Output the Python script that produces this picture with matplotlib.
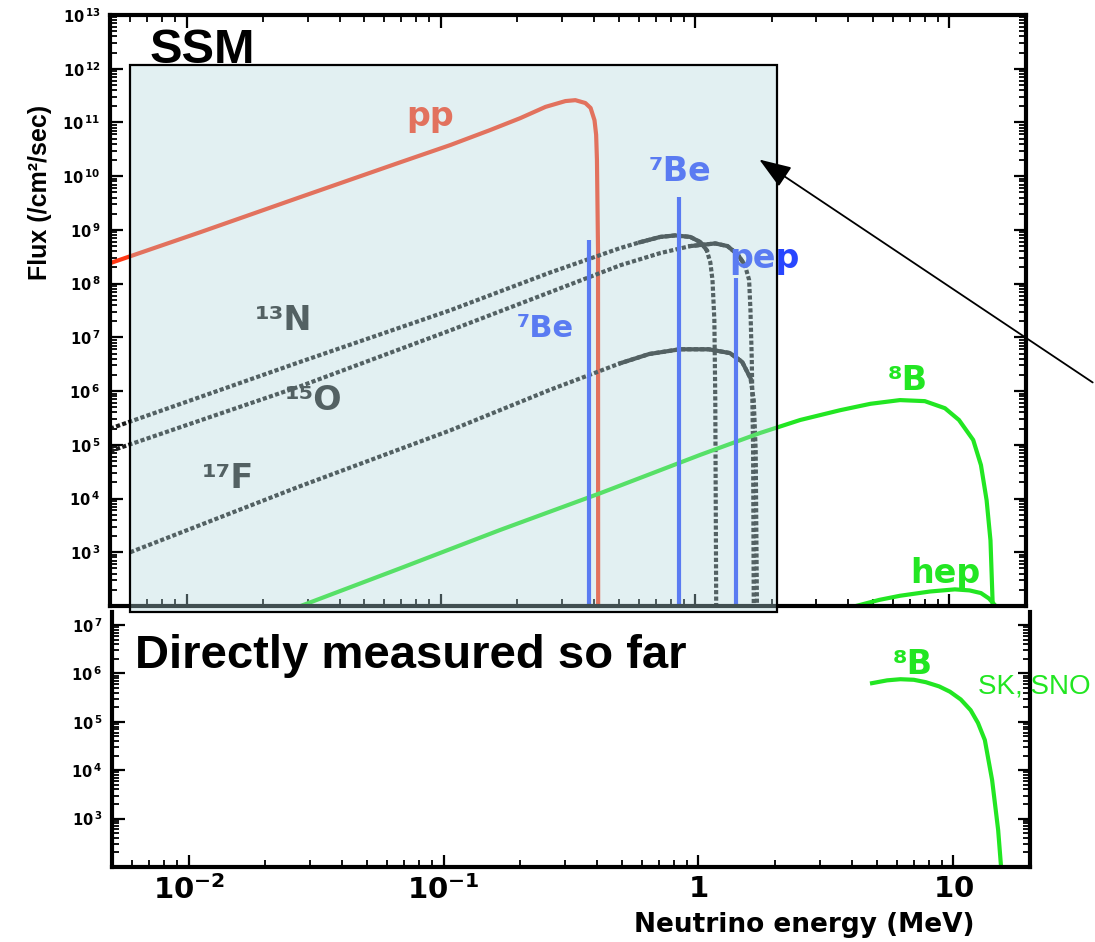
import numpy as np
import matplotlib
matplotlib.use("Agg")
import matplotlib.pyplot as plt
from matplotlib.patches import Rectangle, FancyArrowPatch
from matplotlib.ticker import LogLocator, FuncFormatter, NullFormatter

plt.rcParams["mathtext.fontset"] = "dejavusans"

# ---------------- data (energy in MeV, flux in /cm^2/sec) ----------------
pp_E = [0.005, 0.01135, 0.0281, 0.0694, 0.109, 0.156, 0.205, 0.258, 0.309,
        0.338, 0.370, 0.388, 0.402, 0.408, 0.411, 0.415, 0.4155]
pp_F = [2.4e8, 9.1e8, 4.1e9, 1.82e10, 3.8e10, 7.2e10, 1.2e11, 1.95e11, 2.5e11,
        2.6e11, 2.3e11, 1.86e11, 1.1e11, 5.9e10, 2.0e10, 4.2e8, 1e2]

n13_E = [0.005, 0.028, 0.109, 0.268, 0.508, 0.607, 0.729, 0.835, 0.957, 1.05,
         1.11, 1.147, 1.17, 1.19, 1.20, 1.21]
n13_F = [2.0e5, 3.5e6, 3.2e7, 1.6e8, 4.6e8, 5.9e8, 7.4e8, 7.9e8, 7.4e8, 5.9e8,
         4.2e8, 2.5e8, 1.17e8, 2.1e7, 6.8e5, 1e2]

o15_E = [0.005, 0.028, 0.109, 0.268, 0.508, 0.729, 0.957, 1.20, 1.34, 1.47,
         1.57, 1.63, 1.65, 1.67, 1.69, 1.70]
o15_F = [7.6e4, 1.23e6, 1.35e7, 6.9e7, 2.2e8, 3.7e8, 5.0e8, 5.6e8, 5.0e8, 3.5e8,
         2.2e8, 1.17e8, 3.2e7, 3.8e6, 7.9e4, 1e2]

f17_E = [0.006, 0.028, 0.109, 0.268, 0.508, 0.66, 0.87, 1.13, 1.37, 1.53,
         1.65, 1.70, 1.73, 1.75]
f17_F = [1.0e3, 1.7e4, 1.86e5, 1.05e6, 3.3e6, 4.9e6, 6.0e6, 6.0e6, 5.1e6, 3.5e6,
         1.74e6, 6.8e5, 7.9e4, 1e2]

b8_E = [0.0281, 0.069, 0.171, 0.424, 1.047, 1.80, 2.59, 3.71, 4.89, 6.39, 8.0,
        9.6, 10.9, 12.4, 13.3, 14.0, 14.5, 14.8]
b8_F = [1e2, 5.0e2, 2.6e3, 1.26e4, 6.5e4, 1.66e5, 2.9e5, 4.4e5, 5.8e5, 6.8e5,
        6.5e5, 4.8e5, 2.9e5, 1.23e5, 4.2e4, 9.3e3, 1.66e3, 1e2]

hep_E = [4.29, 5.3, 6.39, 8.38, 10.5, 12.0, 13.3, 14.3, 15.2]
hep_F = [1e2, 1.3e2, 1.55e2, 1.86e2, 2.04e2, 1.95e2, 1.74e2, 1.38e2, 1e2]

be7_E = [0.384, 0.862]
be7_F = [6.5e8, 4.1e9]
pep_E = [1.442]
pep_F = [1.3e8]

# measured 8B spectrum (SK, SNO)
b8m_E = [4.8, 5.5, 6.2, 7.0, 7.8, 8.8, 9.7, 10.7, 11.7, 12.5, 13.3, 14.2, 15.0, 15.4]
b8m_F = [6.3e5, 7.2e5, 7.6e5, 7.4e5, 6.6e5, 5.4e5, 4.2e5, 2.9e5, 1.74e5, 9.5e4,
         4.2e4, 6.3e3, 5.8e2, 1e2]

x_ticks = [0.01, 0.1, 1, 10]
x_tick_labels = [r"$\mathbf{10^{-2}}$", r"$\mathbf{10^{-1}}$", r"$\mathbf{1}$", r"$\mathbf{10}$"]

# ---------------- style ----------------
RED = "#ff3714"
BLUE = "#2846ff"
GREEN = "#22e622"
GRAY = "#1c1c1c"
BOLD = dict(family="DejaVu Sans", weight="bold")

W, H = 1095, 942
fig = plt.figure(figsize=(W / 100, H / 100), dpi=100)
ax = fig.add_axes([110 / W, 1 - 606 / H, 916 / W, 591 / H])
axb = fig.add_axes([112 / W, 1 - 867 / H, 918 / W, 255 / H])


def ylabel_fmt(lo):
    def f(v, pos):
        e = int(round(np.log10(v)))
        if e < lo:
            return ""
        return r"$\mathbf{10}^{\,\mathbf{%d}}$" % e
    return f


for a, ylim in ((ax, (1e2, 1e13)), (axb, (1e2, 10 ** 7.27))):
    a.set_xscale("log")
    a.set_yscale("log")
    a.set_xlim(0.005, 20)
    a.set_ylim(*ylim)
    a.yaxis.set_major_locator(LogLocator(base=10, numticks=30))
    a.yaxis.set_minor_locator(LogLocator(base=10, subs=np.arange(2, 10), numticks=30))
    a.yaxis.set_major_formatter(FuncFormatter(ylabel_fmt(3)))
    a.yaxis.set_minor_formatter(NullFormatter())
    a.xaxis.set_major_locator(LogLocator(base=10, numticks=30))
    a.xaxis.set_minor_locator(LogLocator(base=10, subs=np.arange(2, 10), numticks=30))
    a.xaxis.set_minor_formatter(NullFormatter())
    a.tick_params(which="major", direction="in", length=9, width=1.6, pad=7)
    a.tick_params(which="minor", direction="in", length=5, width=1.3)
    for s in a.spines.values():
        s.set_linewidth(3)

ax.tick_params(which="both", top=True, right=True, labelbottom=False)
axb.tick_params(which="both", top=False, right=True)
axb.spines["top"].set_visible(False)
axb.set_xticks(x_ticks)
axb.set_xticklabels(x_tick_labels, fontsize=21)
axb.tick_params(axis="x", which="major", pad=6)
for a in (ax, axb):
    a.tick_params(axis="y", labelsize=10.5)

# ---------------- curves (top panel) ----------------
ax.plot(pp_E, pp_F, color=RED, lw=3, solid_joinstyle="round")
dots = (0, (1.0, 0.55))
ax.plot(n13_E, n13_F, color=GRAY, lw=3, ls=dots)
ax.plot(o15_E, o15_F, color=GRAY, lw=3, ls=dots)
ax.plot(f17_E, f17_F, color=GRAY, lw=3, ls=dots)
# solid tops of the CNO spectra
for E, F, lo, hi in ((n13_E, n13_F, 0.6, 1.11), (o15_E, o15_F, 0.95, 1.57),
                     (f17_E, f17_F, 0.5, 1.65)):
    sel = [(e, f) for e, f in zip(E, F) if lo <= e <= hi]
    ax.plot([s[0] for s in sel], [s[1] for s in sel], color=GRAY, lw=3,
            solid_joinstyle="round")
ax.plot(b8_E, b8_F, color=GREEN, lw=3, solid_joinstyle="round")
ax.plot(hep_E, hep_F, color=GREEN, lw=3, solid_joinstyle="round")
ax.vlines(be7_E, 1e2, be7_F, color=BLUE, lw=3)
ax.vlines(pep_E, 1e2, pep_F, color=BLUE, lw=3)

ax.text(0.091, 10 ** 11.12, "pp", color=RED, fontsize=24, ha="center", va="center", **BOLD)
ax.text(0.87, 10 ** 10.08, "⁷Be", color=BLUE, fontsize=24, ha="center", va="center", **BOLD)
ax.text(1.88, 10 ** 8.47, "pep", color=BLUE, fontsize=24, ha="center", va="center", **BOLD)
ax.text(0.258, 10 ** 7.17, "⁷Be", color=BLUE, fontsize=22, ha="center", va="center", **BOLD)
ax.text(0.024, 10 ** 7.32, "¹³N", color=GRAY, fontsize=24, ha="center", va="center", **BOLD)
ax.text(0.0316, 10 ** 5.83, "¹⁵O", color=GRAY, fontsize=24, ha="center", va="center", **BOLD)
ax.text(0.0146, 10 ** 4.38, "¹⁷F", color=GRAY, fontsize=24, ha="center", va="center", **BOLD)
ax.text(6.87, 10 ** 6.2, "⁸B", color=GREEN, fontsize=24, ha="center", va="center", **BOLD)
ax.text(9.6, 10 ** 2.61, "hep", color=GREEN, fontsize=24, ha="center", va="center", **BOLD)
ax.text(0.0437, 0.919, "SSM", transform=ax.transAxes, fontsize=35,
        family="Liberation Sans", weight="bold", ha="left", va="baseline")

# ---------------- bottom panel ----------------
axb.plot(b8m_E, b8m_F, color=GREEN, lw=3, solid_joinstyle="round")
axb.text(6.95, 10 ** 6.19, "⁸B", color=GREEN, fontsize=24, ha="center", va="center", **BOLD)
axb.text(12.5, 10 ** 5.74, "SK, SNO", color=GREEN, fontsize=20,
         family="Liberation Sans", ha="left", va="center", clip_on=False)
axb.text(0.025, 0.78, "Directly measured so far", transform=axb.transAxes,
         fontsize=34, family="Liberation Sans", weight="bold", ha="left", va="baseline")

# ---------------- axis titles ----------------
fig.text(40 / W, 1 - 192 / H, "Flux (/cm²/sec)", rotation=90, fontsize=18,
         family="Liberation Sans", weight="bold", ha="center", va="center")
fig.text(975 / W, 1 - 925 / H, "Neutrino energy (MeV)", fontsize=19,
         ha="right", va="center", **BOLD)

# ---------------- translucent highlight box and pointer ----------------
box = Rectangle((130 / W, 1 - 612 / H), (777 - 130) / W, (612 - 65) / H,
                transform=fig.transFigure, facecolor=(0.698, 0.847, 0.871, 0.37),
                edgecolor="black", lw=1.6, zorder=5)
fig.add_artist(box)
arrow = FancyArrowPatch((1.0, 1 - 384 / H), (757 / W, 1 - 158 / H),
                        transform=fig.transFigure,
                        arrowstyle="-|>,head_length=1.1,head_width=0.4",
                        mutation_scale=18, color="black", lw=1.3, zorder=6)
fig.add_artist(arrow)

fig.savefig("out.png", dpi=100)
